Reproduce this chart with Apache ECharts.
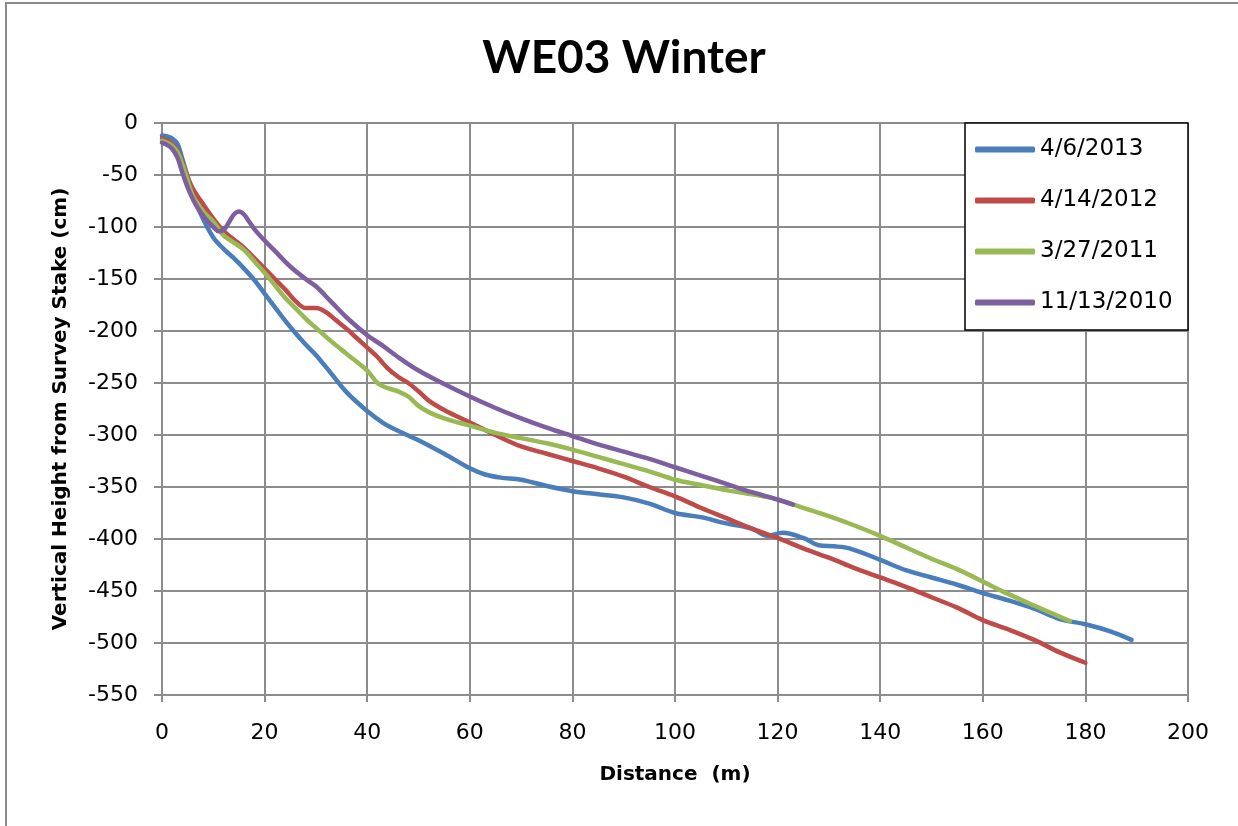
<!DOCTYPE html>
<html>
<head>
<meta charset="utf-8">
<script src="https://cdn.jsdelivr.net/npm/echarts@6/dist/echarts.min.js"></script>
<style>html,body{margin:0;padding:0;background:#fff;}#c{width:1238px;height:826px;}</style>
</head>
<body>
<div id="c"></div>
<script>
const seriesNames = ['4/6/2013', '4/14/2012', '3/27/2011', '11/13/2010'];

const x2013 = [0,1,2,3,4,5,6,8,10,12,14,16,18,20,22,24,26,28,30,33,36,40,43,46,50,55,60,63,66,70,75,80,85,90,95,100,105,110,115,118,121,125,128,131,134,140,145,150,155,160,165,170,175,180,185,189];
const y2013 = [-12,-13,-15,-20,-35,-52,-70,-92,-110,-121,-130,-140,-151,-164,-177,-190,-202,-213,-223,-241,-259,-277,-288,-296,-305,-318,-332,-338,-341,-343,-349,-354,-357,-360,-366,-375,-379,-385,-390,-397,-394,-399,-406,-407,-409,-420,-430,-437,-444,-452,-459,-467,-477,-482,-489,-497];

const x2012 = [0,1,2,3,4,5,6,8,10,12,14,16,18,20,22,24,26,28,30,32,34,36,38,40,42,44,46,48,50,52,55,60,65,70,75,80,85,90,95,100,105,110,115,120,125,130,135,140,145,150,155,160,165,170,175,180];
const y2012 = [-15,-17,-20,-26,-38,-52,-63,-78,-92,-104,-112,-120,-130,-140,-150,-160,-171,-178,-178,-182,-190,-198,-207,-216,-225,-236,-244,-250,-258,-267,-276,-288,-300,-311,-318,-325,-332,-340,-350,-359,-370,-380,-390,-399,-409,-418,-428,-437,-446,-456,-466,-478,-487,-497,-509,-519];

const x2011 = [0,1,2,3,4,5,6,8,10,12,14,16,18,20,22,24,26,28,30,33,36,40,42,44,46,48,50,52,55,60,65,70,75,80,85,90,95,100,105,110,115,120,125,130,135,140,145,150,155,160,165,170,177];
const y2011 = [-17,-19,-22,-28,-40,-55,-70,-85,-95,-108,-115,-122,-133,-144,-156,-168,-178,-188,-197,-210,-222,-238,-250,-255,-258,-263,-272,-278,-284,-291,-298,-303,-308,-314,-321,-328,-335,-343,-348,-353,-357,-362,-370,-378,-387,-397,-408,-419,-429,-441,-453,-464,-479];

const x2010 = [0,1,2,3,4,5,6,7,8,9,10,11,12,13,14,15,16,17,18,20,22,25,28,30,33,36,40,43,46,50,55,60,65,70,75,80,85,90,95,100,105,110,115,120,123];
const y2010 = [-19,-21,-25,-33,-48,-62,-73,-82,-89,-95,-100,-104,-103,-96,-88,-85,-88,-95,-102,-113,-123,-138,-150,-157,-172,-187,-204,-214,-225,-238,-251,-263,-274,-284,-293,-301,-309,-316,-323,-331,-339,-347,-355,-362,-367];

const xTicks = [0,20,40,60,80,100,120,140,160,180,200];
const yTicks = [0,-50,-100,-150,-200,-250,-300,-350,-400,-450,-500,-550];

const colors = ['#4A7EBB', '#BE4B48', '#98B954', '#7D5FA0'];
const xs = [x2013, x2012, x2011, x2010];
const ys = [y2013, y2012, y2011, y2010];

function pairs(a, b) { return a.map((v, i) => [v, b[i]]); }

const chart = echarts.init(document.getElementById('c'));
const gridCol = '#8c8c8c';
const font = 'DejaVu Sans';

chart.setOption({
  animation: false,
  backgroundColor: '#ffffff',
  title: {
    text: 'WE03 Winter',
    left: 619,
    textAlign: 'center',
    top: 30,
    textStyle: { fontFamily: 'Lato', fontWeight: 'bold', fontSize: 46, color: '#000' }
  },
  grid: { left: 162, top: 123, right: 50, bottom: 131, containLabel: false },
  xAxis: {
    type: 'value',
    min: xTicks[0], max: xTicks[xTicks.length - 1], interval: 20,
    name: 'Distance  (m)',
    nameLocation: 'middle',
    nameGap: 70,
    nameTextStyle: { fontFamily: font, fontWeight: 'bold', fontSize: 20, color: '#000' },
    axisLine: { show: true, onZero: false, lineStyle: { color: gridCol, width: 2 } },
    axisTick: { show: true, length: 7, lineStyle: { color: gridCol, width: 2 } },
    axisLabel: { margin: 27, fontFamily: font, fontSize: 22, color: '#000' },
    splitLine: { show: true, lineStyle: { color: gridCol, width: 2 } }
  },
  yAxis: {
    type: 'value',
    min: yTicks[yTicks.length - 1], max: yTicks[0], interval: 50,
    name: 'Vertical Height from Survey Stake (cm)',
    nameLocation: 'middle',
    nameGap: 91,
    nameTextStyle: { fontFamily: font, fontWeight: 'bold', fontSize: 20, color: '#000' },
    axisLine: { show: true, onZero: false, lineStyle: { color: gridCol, width: 2 } },
    axisTick: { show: true, length: 8, lineStyle: { color: gridCol, width: 2 } },
    axisLabel: { margin: 24, fontFamily: font, fontSize: 22, color: '#000' },
    splitLine: { show: true, lineStyle: { color: gridCol, width: 2 } }
  },
  legend: {
    orient: 'vertical',
    left: 975,
    top: 138,
    itemWidth: 60,
    itemHeight: 6,
    itemGap: 28,
    icon: 'roundRect',
    padding: 0,
    textStyle: { fontFamily: font, fontSize: 23, color: '#000', lineHeight: 23 },
    data: seriesNames
  },
  graphic: [
    { type: 'rect', z: 100, silent: true, shape: { x: 6, y: 3, width: 1240, height: 830 },
      style: { fill: 'none', stroke: '#8a8a8a', lineWidth: 2 } },
    { type: 'rect', z: 3, silent: true, shape: { x: 965, y: 123, width: 223, height: 207 },
      style: { fill: '#ffffff', stroke: '#000000', lineWidth: 1.5 } }
  ],
  series: seriesNames.map((n, i) => ({
    name: n,
    type: 'line',
    data: pairs(xs[i], ys[i]),
    smooth: 0.35,
    symbol: 'none',
    color: colors[i],
    lineStyle: { width: 4.5, color: colors[i], cap: 'round', join: 'round' },
    z: 2 + i * 0.01
  }))
});
</script>
</body>
</html>
